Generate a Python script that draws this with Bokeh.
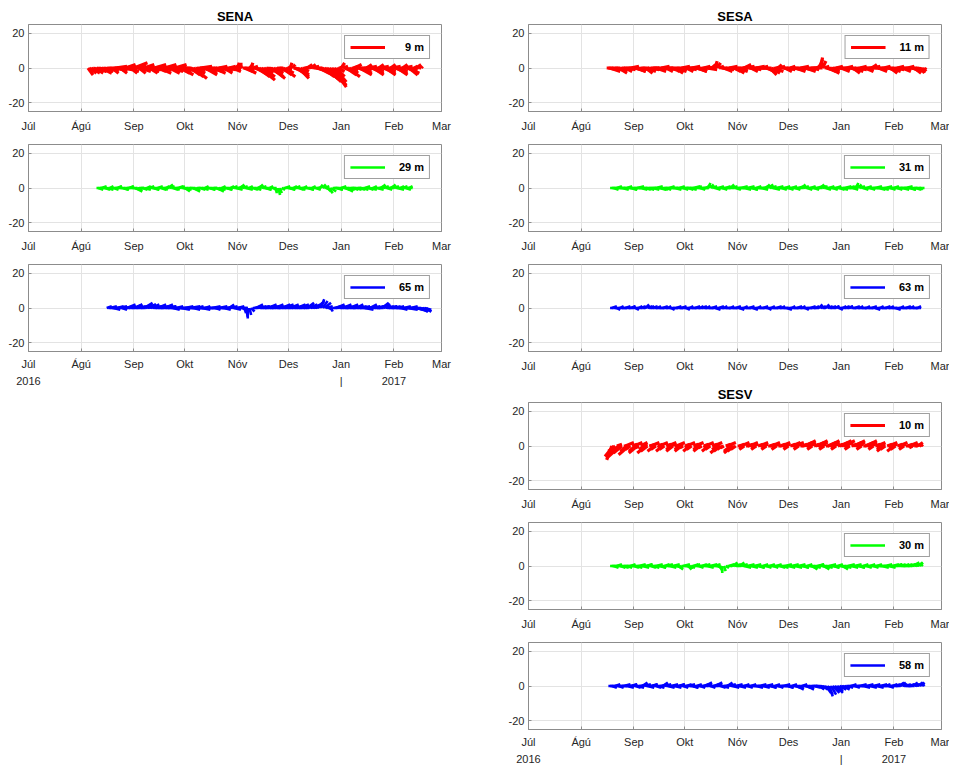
import datetime as dt
from bokeh.plotting import figure
from bokeh.models import Range1d, FixedTicker, Legend, LegendItem, ColumnDataSource
from bokeh.layouts import row, column
from bokeh.embed import file_html
from bokeh.resources import INLINE

# ---------------- axis data ----------------
AXIS_START = "2016-07-01"
MONTH_DAYS = [0, 31, 62, 92, 123, 153, 184, 215, 243]
MONTH_LABELS = ["Júl", "Ágú", "Sep", "Okt", "Nóv", "Des", "Jan", "Feb", "Mar"]
YEAR_LABELS = {0: "2016", 184: "|", 215: "2017"}
Y_TICKS = [-20, 0, 20]

# ---------------- SENA ----------------
sena9_start = "2016-08-05"
sena9_u = [3,4,5,4,5,6,5,4,6,5, 5,6,7,5,4,6,7,6,5,4, 6,7,6,5,6,4,7,8,6,5, 4,6,7,6,5,7,5,6,8,7,
           6,5,7,6,8,7,6,5,6,7, 6,7,6,5,6,7,5,4,6,7, 6,7,8,6,5,6,7,5,6,7, 6,5,4,6,7,5,6,5,4,6,
           5,6,5,4,6,5,3,2,1,2, 0,3,5,6,4,2,1,3,6,7, 7,8,8,7,5,4,6,7,8,6, 5,4,3,5,6,7,5,3,2,1,
           2,4,6,7,6,5,4,3,4,3, 4,3,4,5,5,6,6,7,7,8, 8,8,9,9,8,7,5,4,3,2, 3,5,6,7,5,4,3,4,5,6,
           7,6,5,4,3,5,6,7,6,5, 4,3,5,6,7,6,5,4,3,5, 6,7,6,5,4,3,5,6,7,5, 4,3,2,3,2,1,1]
sena9_v = [-4,-3,-3,-2,-3,-2,-1,-2,-3,-1, -2,-1,0,-2,-3,-1,1,0,-2,-3, -1,1,2,0,-2,-3,1,3,2,-1,
           -3,-2,1,2,0,-2,-3,-1,1,2, 0,-2,-3,-1,1,2,1,-1,-3,-2, 0,2,1,-1,-3,-4,-2,0,-1,-3,
           -4,-5,-6,-3,-1,0,1,-1,-2,-4, -3,-1,0,-2,-3,-2,0,1,-1,-2, -3,-1,0,1,-1,-2,1,2,3,1,
           3,0,-2,-3,-1,2,3,1,-2,-4, -5,-6,-7,-5,-3,-1,-2,-4,-6,-5, -3,-1,0,-2,-4,-5,-3,-1,1,3,
           2,-1,-3,-5,-6,-4,-2,0,1,2, 1,2,1,0,-1,-2,-3,-4,-5,-6, -7,-8,-9,-10,-11,-8,-5,-2,1,3,
           1,-2,-4,-5,-3,-1,1,2,0,-2, -4,-3,-1,1,2,1,-1,-3,-4,-2, 0,2,1,-1,-3,-4,-2,0,2,1,
           -1,-3,-4,-2,0,2,1,-1,-3,-4, -3,-1,1,2,1,0,1]

sena29_start = "2016-08-10"
sena29_u = [3,3,4,3,2,3,4,3,2,3, 3,4,3,2,3,4,3,3,4,3, 2,3,4,4,3,3,2,3,4,3, 2,3,3,4,3,2,3,4,3,3,
            3,2,3,3,4,3,3,2,3,3, 4,4,3,3,2,3,4,4,3,2, 3,3,4,3,2,3,4,3,3,2, 3,4,4,3,2,3,4,3,2,2,
            3,3,4,3,2,2,3,3,4,3, 2,3,3,4,3,2,2,3,3,4, 3,2,2,3,2,1,0,1,1,2, 2,3,3,4,3,3,2,3,4,3,
            3,3,2,3,4,3,2,2,3,3, 2,2,1,2,3,3,2,2,3,3, 3,4,3,2,3,4,3,4,4,3, 3,3,4,3,2,3,4,3,3,2,
            3,4,3,2,3,4,3,2,2,3, 3,3,3,2,2,3,3,4,3,2, 3,3,3,2,2,1]
sena29_v = [0,-1,0,1,0,-1,-1,0,1,0, -1,0,1,1,0,-1,-1,0,0,1, 1,0,-1,-2,-1,0,0,-1,-1,0,
            1,1,0,-1,-1,0,1,0,-1,-1, 0,1,2,1,0,-1,-1,0,1,1, 0,-1,-2,-1,0,0,-1,-2,-1,0,
            0,-1,-1,0,1,0,-1,-1,0,0, -1,-2,-1,0,1,0,-1,-1,0,1, 1,0,-1,0,1,2,1,0,-1,0,
            1,0,-1,-1,0,1,2,1,0,-1, -1,0,1,0,-1,-2,-3,-4,-3,-1, 0,1,0,-1,-1,0,1,1,0,-1,
            -1,0,1,0,-1,-1,0,1,0,-1, 0,1,2,2,1,-1,-2,-3,-2,0, 0,-1,-1,0,1,0,-1,-2,-1,0,
            0,-1,-1,0,0,-1,-1,0,1,0, -1,-1,0,1,0,-1,0,1,2,1, 0,-1,0,1,2,1,0,-1,0,1,
            1,0,-1,0,1,0]

sena65_start = "2016-08-16"
sena65_u = [3,4,4,5,4,3,4,5,4,3, 4,5,5,4,5,6,5,4,5,4, 5,6,5,6,5,4,5,6,5,4, 5,6,5,4,5,6,5,4,5,4,
            5,4,5,6,5,4,5,4,5,6, 5,4,5,4,5,6,5,4,3,4, 5,4,5,4,3,4,5,4,5,4, 3,4,3,4,5,4,3,4,5,4,
            2,1,1,0,1,2,3,4,4,5, 4,5,4,5,4,5,6,5,4,5, 4,5,4,5,6,5,4,5,5,4, 5,4,5,6,5,4,5,5,4,5,
            4,5,4,4,3,3,2,3,4,4, 3,2,1,3,4,5,4,5,4,5, 4,5,4,5,4,5,4,4,5,4, 5,4,5,4,5,4,5,4,5,4,
            4,5,4,4,5,4,5,4,5,4, 5,4,5,4,5,4,5,6,5,4, 5,6,5,6,5,4,5,4,3]
sena65_v = [1,0,1,0,-1,0,1,1,0,-1, 0,1,2,1,0,1,2,2,1,0, 1,2,3,2,1,2,2,1,0,1, 2,1,0,1,2,1,0,1,0,-1,
            0,1,0,0,-1,0,1,0,0,1, 0,-1,0,1,0,0,-1,0,1,0, 0,0,1,0,-1,0,1,0,0,-1, 0,1,2,1,0,-1,0,1,0,0,
            -1,-3,-5,-6,-4,-2,0,1,2,1, 0,1,1,0,1,2,1,0,1,2, 1,0,1,2,2,1,0,1,2,1, 0,1,2,2,1,0,1,2,3,2,
            1,2,1,2,3,4,5,4,3,1, 0,-1,-2,0,1,2,1,0,1,2, 1,0,1,2,1,0,1,2,1,0, 1,0,-1,0,1,2,1,0,1,0,
            1,2,3,2,1,0,1,1,0,1, 0,1,0,-1,0,1,0,-1,0,1, 0,-1,-1,-2,-1,-2,-2,-1,-2]

# ---------------- SESA ----------------
sesa11_start = "2016-08-16"
sesa11_u = [4,5,6,5,4,5,6,5,4,5, 5,4,5,6,5,4,5,6,5,4, 5,6,5,4,5,6,5,4,5,6, 5,4,5,6,5,4,5,6,5,4,
            5,6,5,4,5,6,5,4,5,6, 5,4,5,6,5,4,5,4,5,6, 4,3,2,2,1,2,3,4,5,5, 5,4,5,6,5,4,5,6,5,4,
            5,4,5,6,5,4,5,6,5,4, 5,4,5,6,5,5,4,5,6,4, 3,2,3,4,5,4,5,4,3,4, 5,6,5,4,5,4,5,6,5,4,
            5,4,5,4,3,2,1,2,3,4, 5,6,5,4,5,4,5,6,5,4, 5,4,5,6,5,4,5,6,5,4, 5,6,5,4,5,4,3,4,5,6,
            5,4,5,4,5,6,5,4,5,6, 5,4,5,6,5,4,5,4,5,6, 5,4,5,4,3,2,2,1]
sesa11_v = [0,-1,-2,-1,0,-1,-2,-3,-1,0, -1,-2,-1,0,1,0,-1,-2,-2,-1, 0,-1,-2,-3,-2,-1,0,0,-1,-2,
            -1,0,1,0,-1,-2,-1,0,-1,-2, -3,-2,-1,0,1,0,-1,-2,-1,0, 1,0,-1,-2,-2,-1,0,1,0,-1,
            0,1,2,3,4,3,1,0,-1,-2, -1,0,1,0,-1,-2,-3,-2,-1,0, 1,2,1,0,-1,-2,-1,0,1,0,
            0,1,0,-1,-2,-3,-4,-3,-2,0, 1,2,1,0,-1,-2,-1,0,1,0, -1,-2,-1,0,1,0,-1,-2,-1,0,
            0,-1,0,1,3,5,6,4,1,-1, -2,-3,-2,-1,0,1,0,-1,-2,-1, 0,1,0,-1,-2,-3,-2,-1,0,1,
            0,-1,-2,-1,0,1,2,1,0,-1, -2,-1,0,1,0,-1,-2,-3,-2,-1, 0,1,0,-1,-2,-1,0,1,0,-1,
            -2,-3,-2,-1,-2,-3,-2,-1]

sesa31_start = "2016-08-18"
sesa31_u = [3,4,3,4,3,4,3,4,3,4, 3,4,4,3,4,3,4,3,4,3, 4,3,4,4,3,4,3,4,3,4, 4,3,4,3,4,3,4,3,4,3,
            4,3,4,3,4,4,3,4,3,4, 4,3,4,3,4,3,3,2,1,2, 3,4,3,4,3,4,3,4,3,4, 3,2,3,4,3,4,3,4,3,4,
            3,4,3,4,3,4,3,4,3,4, 3,2,2,3,4,3,4,3,4,3, 4,3,4,3,4,3,4,3,4,3, 4,3,3,2,3,4,3,4,3,4,
            3,4,3,4,2,3,4,3,4,3, 4,3,4,3,4,3,4,3,4,3, 4,3,4,3,2,1,2,3,4,3, 4,3,4,3,4,3,4,3,4,3,
            4,3,4,3,4,3,4,3,4,3, 4,3,4,3,4,3,4,3,3,2, 3,2,2,1,1]
sesa31_v = [0,0,-1,0,1,0,0,-1,0,0, 1,0,-1,-1,0,0,1,0,-1,0, 0,-1,-1,0,0,-1,0,1,0,-1,
            -1,0,0,-1,0,1,0,0,-1,0, 0,1,0,-1,0,0,-1,-1,0,1, 0,1,0,-1,0,0,1,2,3,2,
            1,0,-1,0,1,0,-1,0,1,0, 1,2,1,0,-1,0,0,1,0,-1, 0,1,0,-1,-1,0,1,0,0,-1,
            0,1,2,2,1,0,-1,0,1,0, 0,-1,0,1,0,-1,0,1,0,-1, 0,1,1,2,1,0,-1,0,1,0,
            -1,0,1,1,2,1,0,-1,0,1, 0,-1,0,1,0,-1,-1,0,1,0, 0,1,0,-1,2,3,2,1,0,-1,
            0,1,0,-1,0,0,1,0,-1,0, -1,0,1,0,0,-1,0,1,0,-1, 0,0,-1,0,1,0,-1,-1,0,0,
            -1,0,0,-1,0]

sesa63_start = "2016-08-18"
sesa63_u = [2,3,2,3,2,3,2,3,2,3, 2,3,3,2,3,2,3,2,3,2, 3,2,3,3,2,3,2,3,2,3, 2,3,2,3,2,3,2,3,2,3,
            3,2,3,2,3,2,3,2,3,2, 3,2,3,2,3,2,3,2,3,2, 3,2,3,2,3,2,3,2,3,2, 3,2,3,2,3,2,3,2,3,2,
            3,2,3,2,3,2,3,2,3,2, 3,2,3,2,3,2,3,2,3,2, 3,2,3,2,3,2,3,2,3,2, 3,2,3,2,3,2,3,2,3,2,
            3,2,3,2,3,2,3,2,3,2, 3,2,3,2,3,2,3,2,3,2, 3,2,3,2,3,2,3,2,3,2, 3,2,3,2,3,2,3,2,3,2,
            3,2,3,2,3,2,3,2,3,2, 3,2,3,2,3,2,3,2,3,2, 2,2,1]
sesa63_v = [0,1,0,0,-1,0,1,0,0,1, 0,0,1,1,0,-1,0,1,1,0, 1,2,1,0,1,1,0,0,1,0, 0,1,0,0,1,0,-1,0,0,1,
            0,0,1,0,0,-1,0,1,0,0, 1,0,0,1,1,0,0,1,0,0, 1,0,-1,0,1,0,0,1,0,0, 0,1,0,0,1,0,-1,0,0,1,
            0,0,1,0,-1,0,0,1,0,0, 1,0,0,-1,0,1,0,0,1,0, 0,1,0,0,-1,0,0,1,0,0, 1,0,0,1,0,-1,0,0,1,0,
            0,1,1,2,1,0,1,2,1,0, 1,0,1,1,0,-1,0,1,1,0, 1,1,0,0,1,0,0,1,0,0, 0,1,0,0,1,0,-1,0,0,1,
            0,0,1,0,0,1,0,0,-1,0, 0,1,0,0,1,0,0,1,0,0, 0,1,0]

# ---------------- SESV ----------------
sesv10_start = "2016-08-19"
sesv10_u = [-3,-5,-4,3,-6,-8,-5,3,5,-4, -6,-3,3,5,-4,-5,-2,4,3,-3, -5,-4,4,5,2,-4,-3,3,5,-2,
            -4,-3,3,5,4,-3,-4,2,5,3, -3,-4,-2,3,5,-2,-4,-3,3,5, 2,-3,-4,-2,3,5,-2,-4,-3,3,
            5,2,-3,-5,-4,-3,-2,3,5,2, -4,-5,-4,-3,2,3,5,-2,-3,2, 3,5,4,2,-2,-3,3,5,4,2,
            -2,-3,2,3,5,4,-2,-3,2,3, 5,4,2,-2,-3,3,5,6,4,-2, -3,2,3,5,6,5,3,-2,-3,3,
            5,6,5,3,-2,-3,2,5,6,5, 3,-2,-3,3,5,6,7,5,2,-2, -3,3,5,6,5,3,-2,-3,2,5,
            6,5,3,-2,-3,3,5,4,-2,-3, -4,-3,3,5,4,-2,-4,-3,3,5, 3,-2,-3,2,3,5,4,-2,2,3, 3,2,1]
sesv10_v = [-8,-6,-3,1,-5,-7,-4,0,2,-3, -5,-2,1,2,-3,-4,-1,2,1,-2, -4,-3,1,2,0,-3,-2,1,2,-1,
            -3,-2,1,2,1,-2,-3,0,2,1, -2,-3,-1,1,2,-1,-3,-2,1,2, 0,-2,-3,-1,1,2,-1,-3,-2,1,
            2,0,-2,-4,-3,-2,-1,1,2,0, -3,-4,-3,-2,0,1,2,-1,-2,0, 1,2,1,0,-1,-2,1,2,1,0,
            -1,-2,0,1,2,1,-1,-2,0,1, 2,1,0,-1,-2,1,2,2,1,-1, -2,0,1,2,3,2,1,-1,-2,1,
            2,3,2,1,-1,-2,0,2,3,2, 1,-1,-2,1,2,3,3,2,0,-1, -2,1,2,3,2,1,-1,-2,0,2,
            3,2,1,-1,-2,1,2,1,-1,-2, -3,-2,1,2,1,-1,-3,-2,1,2, 1,-1,-2,0,1,2,1,-1,0,1, 2,1,1]

sesv30_start = "2016-08-18"
sesv30_u = [3,4,3,4,3,4,3,4,3,4, 3,4,3,4,3,4,3,4,3,4, 3,4,3,4,3,4,3,4,3,4, 3,4,3,4,3,4,3,4,3,4,
            3,2,3,4,3,4,2,3,4,3, 3,4,3,4,3,4,3,4,3,4, 3,4,3,3,2,1,0,1,2,3, 3,4,3,4,3,4,3,4,3,4,
            3,4,3,4,3,4,3,4,3,4, 3,4,3,4,3,4,3,4,3,4, 3,4,3,4,3,4,3,4,3,4, 3,4,3,4,3,4,3,4,3,3,
            4,3,4,3,4,3,3,4,3,4, 3,4,3,4,3,4,3,3,4,3, 4,3,4,3,4,3,4,3,4,3, 4,3,4,3,4,3,4,3,4,3,
            4,3,4,3,4,3,4,3,4,3, 4,3,4,3,4,3,4,3,4,3, 3,3,2,1]
sesv30_v = [0,0,-1,0,1,0,-1,-1,0,0, -1,0,1,0,-1,-1,0,1,0,-1, 0,1,1,0,-1,-1,0,1,0,-1,
            -1,0,1,1,0,-1,0,1,0,-1, -2,-1,0,1,0,-1,-2,-1,0,1, 1,0,-1,0,1,1,0,-1,0,1,
            0,1,0,-1,-2,-3,-4,-3,-1,0, 1,1,2,1,0,1,2,1,0,-1, 0,1,0,-1,0,1,0,-1,-1,0,
            1,0,-1,0,1,0,-1,0,1,0, -1,-1,0,1,0,-1,0,1,0,-1, 0,1,0,-1,-1,0,1,0,-1,-2,
            -1,0,1,1,0,-1,-2,-1,0,1, 0,-1,-1,0,1,0,-1,-2,-1,0, 1,0,-1,0,1,0,-1,-1,0,1,
            0,-1,0,1,0,-1,0,1,0,0, -1,0,1,0,-1,0,1,0,1,1, 0,1,0,1,1,0,1,1,2,1, 1,2,2,1]

sesv58_start = "2016-08-17"
sesv58_u = [3,4,3,4,3,4,3,4,3,4, 3,4,3,4,3,4,3,4,3,4, 3,4,3,4,3,4,3,4,3,4, 3,4,3,4,3,4,3,4,3,4,
            3,4,3,4,3,4,3,4,3,4, 3,4,3,4,3,4,3,4,3,4, 3,4,3,4,3,4,3,4,3,4, 3,4,3,4,3,4,3,4,3,4,
            3,4,3,4,3,4,3,4,3,4, 3,4,3,4,3,4,3,4,3,4, 3,4,3,4,3,4,3,4,3,4, 3,4,3,4,3,4,3,4,3,4,
            3,4,3,4,3,4,3,4,3,3, 2,3,4,3,4,3,4,3,4,3, 4,3,4,3,4,3,4,3,4,3, 4,3,4,3,4,3,4,3,4,3,
            4,3,4,3,4,3,4,3,4,3, 4,3,3,3,4,3,4,3,3,3, 3,3,3,2,2,1]
sesv58_v = [0,0,-1,0,1,0,-1,0,0,1, 0,-1,0,1,1,0,-1,-1,0,1, 2,1,0,-1,0,1,1,0,-1,-1,
            0,1,2,1,0,-1,0,1,0,-1, 0,1,1,0,-1,0,1,1,0,-1, -1,0,1,0,-1,0,1,2,1,0,
            -1,0,1,2,1,0,-1,-1,0,1, 2,1,0,-1,0,1,0,-1,0,0, 1,0,-1,0,1,0,0,-1,0,1,
            0,-1,0,1,0,-1,-1,0,1,0, -1,0,0,1,0,-1,-1,0,1,0, -1,-2,-1,0,1,0,-1,-2,-1,0,
            0,-1,0,-1,-2,-1,-2,-3,-4,-5, -6,-5,-4,-3,-4,-3,-2,-1,-2,-1, 0,-1,0,1,0,-1,0,0,1,0,
            -1,0,1,0,-1,0,1,0,-1,0, 1,0,0,1,0,-1,0,1,1,0, 1,2,2,1,0,1,0,1,1,2, 1,1,2,2,2,1]

RED, GREEN, BLUE = "#ff0000", "#00ff00", "#0000ff"

PANELS_LEFT = [
    ("SENA", sena9_start, sena9_u, sena9_v, RED, "9 m"),
    (None, sena29_start, sena29_u, sena29_v, GREEN, "29 m"),
    (None, sena65_start, sena65_u, sena65_v, BLUE, "65 m"),
]
PANELS_RIGHT = [
    ("SESA", sesa11_start, sesa11_u, sesa11_v, RED, "11 m"),
    (None, sesa31_start, sesa31_u, sesa31_v, GREEN, "31 m"),
    (None, sesa63_start, sesa63_u, sesa63_v, BLUE, "63 m"),
    ("SESV", sesv10_start, sesv10_u, sesv10_v, RED, "10 m"),
    (None, sesv30_start, sesv30_u, sesv30_v, GREEN, "30 m"),
    (None, sesv58_start, sesv58_u, sesv58_v, BLUE, "58 m"),
]

FONT = "Liberation Sans"
TXT = "#262626"
BOX = "#8c8c8c"


def day_offset(s):
    a = dt.date.fromisoformat(AXIS_START)
    b = dt.date.fromisoformat(s)
    return (b - a).days


def make_panel(title, start, u, v, color, label, left_border, right_border, top_border, years):
    p = figure(output_backend="svg", toolbar_location=None,
               frame_width=413, frame_height=87,
               x_range=Range1d(MONTH_DAYS[0], MONTH_DAYS[-1]),
               y_range=Range1d(-25, 25),
               title=title,
               min_border_left=left_border, min_border_right=right_border,
               min_border_top=top_border, min_border_bottom=36 if years else 20)
    p.background_fill_color = "white"
    p.border_fill_color = "white"
    p.outline_line_color = BOX
    p.outline_line_width = 1
    if title:
        p.title.align = "center"
        p.title.text_font = FONT
        p.title.text_font_size = "13px"
        p.title.text_font_style = "bold"
        p.title.text_color = "#000000"
        p.title.standoff = 2
    d0 = day_offset(start)
    x0 = [d0 + i for i in range(len(u))]
    x1 = [a + b for a, b in zip(x0, u)]
    src = ColumnDataSource(dict(x0=x0, y0=[0] * len(u), x1=x1, y1=v))
    lw = 3.2 if color == RED else 2.6
    sticks = p.segment("x0", "y0", "x1", "y1", source=src, line_color=color, line_width=lw)

    p.xaxis.ticker = FixedTicker(ticks=MONTH_DAYS)
    p.xgrid.ticker = FixedTicker(ticks=MONTH_DAYS)
    overrides = {}
    for d, lbl in zip(MONTH_DAYS, MONTH_LABELS):
        if years and d in YEAR_LABELS:
            overrides[d] = lbl + "\n" + YEAR_LABELS[d]
        else:
            overrides[d] = lbl
    p.xaxis.major_label_overrides = overrides
    p.yaxis.ticker = FixedTicker(ticks=Y_TICKS)
    p.ygrid.ticker = FixedTicker(ticks=Y_TICKS)
    p.yaxis.major_label_overrides = {t: str(t) for t in Y_TICKS}
    for ax in (p.xaxis[0], p.yaxis[0]):
        ax.axis_line_color = BOX
        ax.major_tick_line_color = BOX
        ax.major_tick_in = 3
        ax.major_tick_out = 0
        ax.minor_tick_line_color = None
        ax.major_label_text_font = FONT
        ax.major_label_text_font_size = "11px"
        ax.major_label_text_color = TXT
    if years:
        p.xaxis.major_label_standoff = 6
        p.xaxis.major_label_text_line_height = 1.45
    else:
        p.xaxis.major_label_standoff = 8
    p.yaxis.major_label_standoff = 4
    for g in (p.xgrid[0], p.ygrid[0]):
        g.grid_line_color = "#e3e3e3"
        g.grid_line_width = 1

    leg = Legend(items=[LegendItem(label=label, renderers=[sticks], index=0)],
                 location="top_right", margin=11, padding=5, spacing=0,
                 glyph_width=35, glyph_height=12,
                 label_standoff=20 if len(label) < 4 else 14,
                 label_width=10, label_height=12,
                 label_text_font=FONT, label_text_font_size="11px",
                 label_text_font_style="bold", label_text_color="#000000",
                 border_line_color="#404040", border_line_width=1,
                 background_fill_color="white", background_fill_alpha=1)
    p.add_layout(leg)
    return p


left_figs = []
for i, (t, s, u, v, c, lbl) in enumerate(PANELS_LEFT):
    left_figs.append(make_panel(t, s, u, v, c, lbl, left_border=28, right_border=64,
                                top_border=24 if i == 0 else 10,
                                years=(i == 2)))
right_figs = []
for i, (t, s, u, v, c, lbl) in enumerate(PANELS_RIGHT):
    tb = 24 if i == 0 else (28 if i == 3 else 10)
    right_figs.append(make_panel(t, s, u, v, c, lbl, left_border=22, right_border=8,
                                 top_border=tb, years=(i == 5)))

layout = row(column(*left_figs), column(*right_figs))

with open("out.html", "w") as f:
    f.write(file_html(layout, INLINE))
